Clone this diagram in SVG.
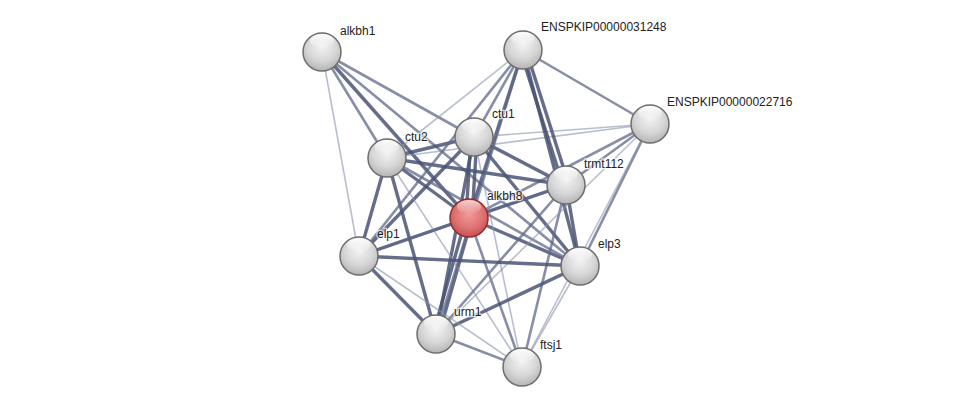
<svg xmlns="http://www.w3.org/2000/svg" width="976" height="412" viewBox="0 0 976 412">
<defs>
<radialGradient id="gGray" cx="0.5" cy="0.35" r="0.65">
<stop offset="0" stop-color="#f4f4f4"/>
<stop offset="0.6" stop-color="#d6d6d6"/>
<stop offset="1" stop-color="#b4b4b4"/>
</radialGradient>
<radialGradient id="gRed" cx="0.5" cy="0.4" r="0.65">
<stop offset="0" stop-color="#f29a9a"/>
<stop offset="0.6" stop-color="#de7070"/>
<stop offset="1" stop-color="#c04848"/>
</radialGradient>
<linearGradient id="hl" x1="0" y1="0" x2="0" y2="1">
<stop offset="0" stop-color="#ffffff" stop-opacity="0.95"/>
<stop offset="1" stop-color="#ffffff" stop-opacity="0"/>
</linearGradient>
</defs>
<style>
.e line{stroke-linecap:butt}
.s{stroke:#4a5374;stroke-width:3.4;stroke-opacity:0.85}
.m{stroke:#5f6888;stroke-width:2.6;stroke-opacity:0.75}
.w{stroke:#8a92ae;stroke-width:1.6;stroke-opacity:0.6}
.ring{stroke:#6e6e6e;stroke-width:1.5}
.ringR{stroke:#8e2e2e;stroke-width:1.5}
text{font-family:"Liberation Sans",Arial,sans-serif;font-size:12px;fill:#222;stroke:#fff;stroke-width:2.5px;stroke-opacity:0.7;paint-order:stroke}
</style>
<rect width="976" height="412" fill="#ffffff"/>
<g id="connectors" class="e">
<line class="w" x1="322" y1="52" x2="359" y2="256"/>
<line class="m" x1="322" y1="52" x2="387" y2="158"/>
<line class="m" x1="322" y1="52" x2="474" y2="137"/>
<line class="s" x1="322" y1="52" x2="469" y2="218"/>
<line class="m" x1="322" y1="52" x2="580" y2="266"/>

<line class="s" x1="471" y1="137" x2="466" y2="218"/>
<line class="s" x1="477" y1="137" x2="472" y2="218"/>
<line class="s" x1="469" y1="218" x2="387" y2="158"/>
<line class="s" x1="469" y1="218" x2="566" y2="185"/>
<line class="s" x1="469" y1="218" x2="580" y2="266"/>
<line class="s" x1="469" y1="218" x2="359" y2="256"/>
<line class="s" x1="466" y1="218" x2="433" y2="334"/>
<line class="s" x1="472" y1="218" x2="439" y2="334"/>
<line class="m" x1="469" y1="218" x2="522" y2="367"/>
<line class="s" x1="469" y1="218" x2="523" y2="50"/>
<line class="m" x1="469" y1="218" x2="650" y2="124"/>

<line class="s" x1="474" y1="137" x2="387" y2="158"/>
<line class="s" x1="474" y1="137" x2="566" y2="185"/>
<line class="s" x1="474" y1="137" x2="580" y2="266"/>
<line class="s" x1="474" y1="137" x2="359" y2="256"/>
<line class="s" x1="474" y1="137" x2="436" y2="334"/>
<line class="w" x1="474" y1="137" x2="522" y2="367"/>
<line class="m" x1="474" y1="137" x2="523" y2="50"/>
<line class="w" x1="474" y1="137" x2="650" y2="124"/>

<line class="s" x1="387" y1="158" x2="566" y2="185"/>
<line class="m" x1="387" y1="158" x2="580" y2="266"/>
<line class="s" x1="387" y1="158" x2="359" y2="256"/>
<line class="s" x1="387" y1="158" x2="436" y2="334"/>
<line class="w" x1="387" y1="158" x2="522" y2="367"/>
<line class="w" x1="387" y1="158" x2="523" y2="50"/>
<line class="w" x1="387" y1="158" x2="650" y2="124"/>

<line class="s" x1="520" y1="50" x2="563" y2="185"/>
<line class="s" x1="526" y1="50" x2="569" y2="185"/>
<line class="m" x1="566" y1="185" x2="650" y2="124"/>
<line class="s" x1="566" y1="185" x2="580" y2="266"/>
<line class="m" x1="566" y1="185" x2="359" y2="256"/>
<line class="m" x1="566" y1="185" x2="436" y2="334"/>
<line class="m" x1="566" y1="185" x2="522" y2="367"/>

<line class="m" x1="523" y1="50" x2="650" y2="124"/>
<line class="s" x1="523" y1="50" x2="580" y2="266"/>
<line class="m" x1="523" y1="50" x2="359" y2="256"/>
<line class="m" x1="523" y1="50" x2="436" y2="334"/>

<line class="m" x1="650" y1="124" x2="580" y2="266"/>
<line class="w" x1="650" y1="124" x2="436" y2="334"/>
<line class="w" x1="650" y1="124" x2="522" y2="367"/>

<line class="s" x1="580" y1="266" x2="359" y2="256"/>
<line class="s" x1="580" y1="266" x2="436" y2="334"/>
<line class="w" x1="580" y1="266" x2="522" y2="367"/>

<line class="s" x1="359" y1="256" x2="436" y2="334"/>
<line class="w" x1="359" y1="256" x2="522" y2="367"/>
<line class="m" x1="436" y1="334" x2="522" y2="367"/>
</g>

<g id="node-alkbh1">
<circle cx="322" cy="52" r="19" fill="url(#gGray)" class="ring"/>
<ellipse cx="322" cy="41" rx="12" ry="7" fill="url(#hl)"/>
<text x="340" y="35">alkbh1</text>
</g>
<g id="node-ENSPKIP00000031248">
<circle cx="523" cy="50" r="19" fill="url(#gGray)" class="ring"/>
<ellipse cx="523" cy="39" rx="12" ry="7" fill="url(#hl)"/>
<text x="541" y="31">ENSPKIP00000031248</text>
</g>
<g id="node-ENSPKIP00000022716">
<circle cx="650" cy="124" r="19" fill="url(#gGray)" class="ring"/>
<ellipse cx="650" cy="113" rx="12" ry="7" fill="url(#hl)"/>
<text x="667" y="106">ENSPKIP00000022716</text>
</g>
<g id="node-ctu1">
<circle cx="474" cy="137" r="19" fill="url(#gGray)" class="ring"/>
<ellipse cx="474" cy="126" rx="12" ry="7" fill="url(#hl)"/>
<text x="492" y="118">ctu1</text>
</g>
<g id="node-ctu2">
<circle cx="387" cy="158" r="19" fill="url(#gGray)" class="ring"/>
<ellipse cx="387" cy="147" rx="12" ry="7" fill="url(#hl)"/>
<text x="405" y="141">ctu2</text>
</g>
<g id="node-trmt112">
<circle cx="566" cy="185" r="19" fill="url(#gGray)" class="ring"/>
<ellipse cx="566" cy="174" rx="12" ry="7" fill="url(#hl)"/>
<text x="584" y="168">trmt112</text>
</g>
<g id="node-alkbh8">
<circle cx="469" cy="218" r="19" fill="url(#gRed)" class="ringR"/>
<ellipse cx="469" cy="207" rx="12" ry="7" fill="url(#hl)" opacity="0.7"/>
<text x="487" y="200">alkbh8</text>
</g>
<g id="node-elp1">
<circle cx="359" cy="256" r="19" fill="url(#gGray)" class="ring"/>
<ellipse cx="359" cy="245" rx="12" ry="7" fill="url(#hl)"/>
<text x="377" y="238">elp1</text>
</g>
<g id="node-elp3">
<circle cx="580" cy="266" r="19" fill="url(#gGray)" class="ring"/>
<ellipse cx="580" cy="255" rx="12" ry="7" fill="url(#hl)"/>
<text x="598" y="248">elp3</text>
</g>
<g id="node-urm1">
<circle cx="436" cy="334" r="19" fill="url(#gGray)" class="ring"/>
<ellipse cx="436" cy="323" rx="12" ry="7" fill="url(#hl)"/>
<text x="454" y="316">urm1</text>
</g>
<g id="node-ftsj1">
<circle cx="522" cy="367" r="19" fill="url(#gGray)" class="ring"/>
<ellipse cx="522" cy="356" rx="12" ry="7" fill="url(#hl)"/>
<text x="540" y="349">ftsj1</text>
</g>
</svg>
